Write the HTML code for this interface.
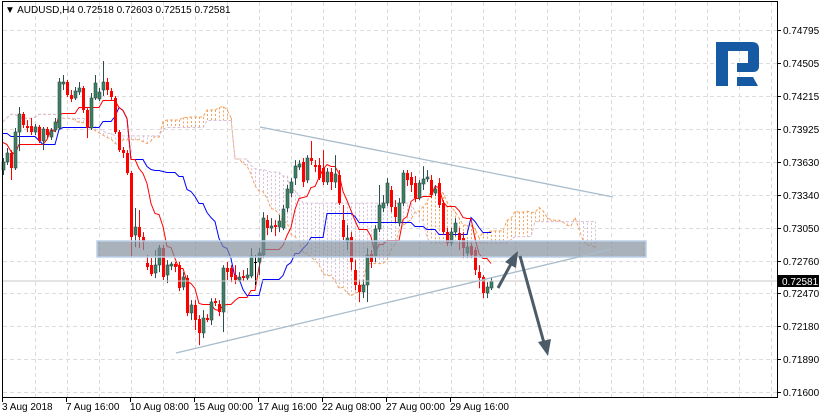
<!DOCTYPE html>
<html><head><meta charset="utf-8"><style>
html,body{margin:0;padding:0;background:#fff;}
svg{display:block;font-family:"Liberation Sans",sans-serif;}
</style></head><body>
<svg id="chart" width="820" height="416" viewBox="0 0 820 416" xmlns="http://www.w3.org/2000/svg">
<rect x="0" y="0" width="820" height="416" fill="#fff"/>
<g id="grid"></g>
<g id="cloud"></g>
<g id="lines"></g>
<g id="candles"></g>
<line x1="2" y1="281" x2="777" y2="281" stroke="#c8c8c8" stroke-width="1"/>
<rect x="97" y="241" width="549" height="16" fill="rgba(128,142,154,0.68)" stroke="#bcd0e8" stroke-width="1.5"/>
<line x1="260" y1="127" x2="613" y2="197" stroke="#a8bccb" stroke-width="1.3"/>
<line x1="176" y1="353" x2="612" y2="249" stroke="#a8bccb" stroke-width="1.3"/>
<g>
<line x1="498" y1="288" x2="512" y2="262" stroke="#4b5b68" stroke-width="3"/>
<polygon points="518,251 516,268 505,262" fill="#4b5b68"/>
</g>
<g>
<line x1="520" y1="256" x2="544" y2="343" stroke="#4b5b68" stroke-width="3"/>
<polygon points="548,356 538,342 551,339" fill="#4b5b68"/>
</g>
<g>
<path d="M716 42 H752 Q759 42 759 49 V66 Q759 72 753 72 H737 V63 H748 V51 H728 V86 H716 Z" fill="#155aa3"/>
<path d="M737 77 H753 L758 86 H737 Z" fill="#155aa3"/>
</g>
<rect x="2.5" y="1.5" width="775" height="396" fill="none" stroke="#000" stroke-width="1"/>
<g id="yaxis"></g>
<g id="xaxis"></g>
<g>
<rect x="778" y="275" width="41" height="12" fill="#000"/>
<text x="782" y="285" font-size="10" fill="#fff">0.72581</text>
</g>
<text x="5" y="13" font-size="10" fill="#000">▼ AUDUSD,H4  0.72518 0.72603 0.72515 0.72581</text>
</svg>
<script>
const opens=[0.73559,0.73630,0.73709,0.73577,0.73894,0.74053,0.73947,0.73947,0.73894,0.73939,0.73815,0.73921,0.73850,0.73912,0.73930,0.74318,0.74336,0.74221,0.74195,0.74248,0.74283,0.74089,0.73930,0.74195,0.74186,0.74265,0.74336,0.74257,0.74195,0.73894,0.73735,0.73709,0.73532,0.72985,0.73056,0.72967,0.72738,0.72720,0.72649,0.72720,0.72870,0.72632,0.72711,0.72729,0.72720,0.72526,0.72605,0.72296,0.72367,0.72243,0.72119,0.72252,0.72234,0.72402,0.72376,0.72305,0.72694,0.72694,0.72632,0.72588,0.72623,0.72605,0.72623,0.72747,0.72747,0.72808,0.73117,0.73047,0.73073,0.73056,0.73047,0.73224,0.73356,0.73488,0.73586,0.73630,0.73471,0.73665,0.73603,0.73603,0.73577,0.73453,0.73541,0.73453,0.73515,0.73117,0.72923,0.72967,0.72676,0.72544,0.72481,0.72544,0.72817,0.72791,0.73038,0.73224,0.73267,0.73383,0.73232,0.73091,0.73267,0.73532,0.73497,0.73444,0.73312,0.73435,0.73479,0.73471,0.73356,0.73444,0.73267,0.73011,0.72914,0.73011,0.73003,0.72959,0.72826,0.72888,0.72853,0.72658,0.72614,0.72472,0.72516];
const highs=[0.73665,0.73753,0.73735,0.73930,0.74115,0.74071,0.74000,0.74018,0.73965,0.73956,0.73939,0.73939,0.73930,0.74018,0.74371,0.74398,0.74354,0.74265,0.74292,0.74336,0.74301,0.74106,0.74239,0.74398,0.74283,0.74521,0.74371,0.74283,0.74212,0.73912,0.73762,0.73735,0.73550,0.73224,0.73206,0.73011,0.72808,0.72782,0.72853,0.72897,0.72897,0.72764,0.72747,0.72747,0.72747,0.72658,0.72632,0.72411,0.72411,0.72278,0.72323,0.72287,0.72428,0.72428,0.72411,0.72720,0.72747,0.72720,0.72720,0.72658,0.72676,0.72694,0.72870,0.72808,0.72870,0.73188,0.73162,0.73135,0.73117,0.73162,0.73250,0.73427,0.73488,0.73647,0.73647,0.73665,0.73691,0.73815,0.73647,0.73665,0.73735,0.73577,0.73577,0.73691,0.73559,0.73250,0.73073,0.73011,0.72764,0.72588,0.72588,0.72870,0.72853,0.73073,0.73427,0.73338,0.73488,0.73418,0.73294,0.73312,0.73559,0.73559,0.73541,0.73506,0.73471,0.73594,0.73559,0.73515,0.73427,0.73488,0.73294,0.73047,0.73047,0.73135,0.73047,0.73011,0.72941,0.72914,0.72879,0.72720,0.72632,0.72570,0.72605];
const lows=[0.73515,0.73603,0.73471,0.73559,0.73726,0.73930,0.73894,0.73868,0.73868,0.73797,0.73735,0.73841,0.73824,0.73894,0.73912,0.74265,0.74203,0.74159,0.74177,0.74221,0.74062,0.73841,0.73912,0.74177,0.74168,0.74212,0.74221,0.74177,0.73877,0.73718,0.73665,0.73515,0.72791,0.72879,0.72870,0.72853,0.72676,0.72623,0.72605,0.72658,0.72588,0.72561,0.72676,0.72658,0.72490,0.72499,0.72270,0.72234,0.72146,0.72014,0.72075,0.72217,0.72190,0.72358,0.72270,0.72128,0.72588,0.72570,0.72552,0.72570,0.72579,0.72588,0.72605,0.72544,0.72632,0.72782,0.72985,0.73011,0.72976,0.73011,0.73029,0.73188,0.73321,0.73427,0.73559,0.73409,0.73444,0.73603,0.73541,0.73471,0.73427,0.73427,0.73383,0.73400,0.73250,0.72941,0.72853,0.72676,0.72499,0.72393,0.72428,0.72393,0.72694,0.72747,0.73011,0.73188,0.73241,0.73188,0.73100,0.73064,0.73241,0.73418,0.73365,0.73276,0.73294,0.73383,0.73453,0.73312,0.73329,0.73224,0.72985,0.72888,0.72888,0.72976,0.72853,0.72782,0.72782,0.72782,0.72632,0.72516,0.72428,0.72428,0.72499];
const closes=[0.73630,0.73709,0.73577,0.73894,0.74053,0.73956,0.73930,0.73894,0.73939,0.73815,0.73921,0.73868,0.73903,0.73983,0.74336,0.74336,0.74221,0.74186,0.74257,0.74283,0.74089,0.73930,0.74195,0.74327,0.74248,0.74336,0.74265,0.74203,0.73894,0.73735,0.73709,0.73532,0.72967,0.73056,0.72967,0.72923,0.72703,0.72640,0.72720,0.72870,0.72614,0.72720,0.72729,0.72703,0.72516,0.72614,0.72296,0.72367,0.72234,0.72119,0.72252,0.72234,0.72393,0.72385,0.72305,0.72694,0.72658,0.72614,0.72588,0.72614,0.72605,0.72632,0.72800,0.72747,0.72826,0.73135,0.73047,0.73064,0.73056,0.73109,0.73215,0.73391,0.73453,0.73594,0.73612,0.73453,0.73665,0.73638,0.73586,0.73488,0.73453,0.73541,0.73453,0.73524,0.73267,0.72967,0.72959,0.72747,0.72544,0.72481,0.72544,0.72808,0.72747,0.73038,0.73250,0.73267,0.73444,0.73232,0.73144,0.73267,0.73532,0.73471,0.73427,0.73312,0.73444,0.73479,0.73497,0.73338,0.73391,0.73250,0.73011,0.72914,0.73011,0.73091,0.72941,0.72870,0.72879,0.72808,0.72676,0.72605,0.72472,0.72526,0.72581];
const priorHighs=[0.7405,0.7412,0.7418,0.7410,0.7402,0.7398,0.7408,0.7415,0.7420,0.7425,0.7418,0.7410,0.7404,0.7400,0.7395,0.7392,0.7398,0.7404,0.7410,0.7406,0.7398,0.7390,0.7385,0.7380,0.7378,0.7372];
const priorLows=[0.7392,0.7398,0.7404,0.7396,0.7388,0.7385,0.7394,0.7402,0.7406,0.7410,0.7404,0.7396,0.7390,0.7386,0.7382,0.7378,0.7384,0.7390,0.7396,0.7392,0.7384,0.7376,0.7370,0.7364,0.7360,0.7356];
const priceTicks=["0.74795","0.74505","0.74215","0.73925","0.73630","0.73340","0.73050","0.72760","0.72470","0.72180","0.71890","0.71600"];
const dateLabels=["3 Aug 2018","7 Aug 16:00","10 Aug 08:00","15 Aug 00:00","17 Aug 16:00","22 Aug 08:00","27 Aug 00:00","29 Aug 16:00"];
const dateBarIndex=[0,16,32,48,64,80,96,112];

const NS="http://www.w3.org/2000/svg";
function yOf(p){return 30+(0.74795-p)*11330;}
function xOf(i){return 3+4*i;}
function mk(tag,attrs,parent){const e=document.createElementNS(NS,tag);for(const k in attrs)e.setAttribute(k,attrs[k]);parent.appendChild(e);return e;}

const grid=document.getElementById('grid');
for(let k=0;k<priceTicks.length;k++){
  const y=Math.round(yOf(parseFloat(priceTicks[k])))+0.5;
  const l=mk('line',{x1:3,y1:y,x2:777,y2:y,stroke:'#dcdcdc','stroke-dasharray':'4,3'},grid);
  
  
}
for(let x=35;x<777;x+=32){
  const l=mk('line',{x1:x+0.5,y1:2,x2:x+0.5,y2:397,stroke:'#dcdcdc','stroke-dasharray':'4,3'},grid);
  
  
}

const yax=document.getElementById('yaxis');
for(let k=0;k<priceTicks.length;k++){
  const y=Math.round(yOf(parseFloat(priceTicks[k])));
  mk('line',{x1:777,y1:y+0.5,x2:781,y2:y+0.5,stroke:'#000'},yax);
  const t=mk('text',{x:783,y:y+4,'font-size':10,fill:'#000'},yax);
  t.textContent=priceTicks[k];
  
  
}
const xax=document.getElementById('xaxis');
for(let k=0;k<dateLabels.length;k++){
  const x=xOf(dateBarIndex[k])-1;
  mk('line',{x1:x+0.5,y1:397,x2:x+0.5,y2:402,stroke:'#000'},xax);
  const t=mk('text',{x:x,y:410,'font-size':10,fill:'#000'},xax);
  t.textContent=dateLabels[k];
  
  
}

// Ichimoku from combined highs/lows
const allH=priorHighs.concat(highs), allL=priorLows.concat(lows);
const P=priorHighs.length;
function mid(c,n){let hi=-1,lo=9;for(let j=Math.max(0,c-n+1);j<=c;j++){hi=Math.max(hi,allH[j]);lo=Math.min(lo,allL[j]);}return (hi+lo)/2;}
const cloud=document.getElementById('cloud');
const spanA=[],spanB=[];
for(let k=0;k<allH.length;k++){spanA.push((mid(k,9)+mid(k,26))/2);spanB.push(mid(k,52));}
for(let k=0;k<spanA.length;k++){
  const x=xOf(k)+0.5;if(x>777)break;
  const ya=yOf(spanA[k]),yb=yOf(spanB[k]);
  const h=mk('line',{x1:x,y1:ya,x2:x,y2:yb,stroke:spanA[k]>=spanB[k]?'#f4a460':'#d8bfd8','stroke-dasharray':'2,2','stroke-width':1},cloud);
  
  
}
function poly(vals,startIdx,color,dash,name,parent){
  let d='';
  for(let k=0;k<vals.length;k++){const x=xOf(k+startIdx),y=yOf(vals[k]).toFixed(1);d+=(k?'L':'M')+x+' '+y;}
  const p=mk('path',{d:d,fill:'none',stroke:color,'stroke-width':1},parent);
  if(dash)p.setAttribute('stroke-dasharray',dash);
  
  
}
poly(spanA,0,'#f4a460','3,2','senkou-span-a',cloud);
poly(spanB,0,'#d8bfd8','3,2','senkou-span-b',cloud);
const lines=document.getElementById('lines');
const tenkan=[],kijun=[];
for(let i=0;i<closes.length;i++){tenkan.push(mid(i+P,9));kijun.push(mid(i+P,26));}
function stepPath(vals,color,name){
  let d='';
  for(let k=0;k<vals.length;k++){const x=xOf(k),y=Math.round(yOf(vals[k]))+0.5;d+=(k?'L':'M')+x+' '+y;}
  const p=mk('path',{d:d,fill:'none',stroke:color,'stroke-width':1},lines);
  
  
}
stepPath(kijun,'#0000ff','kijun-sen');
stepPath(tenkan,'#ff0000','tenkan-sen');

const cg=document.getElementById('candles');
for(let i=0;i<closes.length;i++){
  const x=xOf(i),o=opens[i],c=closes[i];
  const bull=c>o,doji=c===o;
  const col=doji?'#000':(bull?'#2f4f4f':'#ff0000');
  const g=mk('g',{},cg);
  
  
  mk('line',{x1:x+0.5,y1:yOf(highs[i]),x2:x+0.5,y2:yOf(lows[i]),stroke:col,'stroke-width':1},g);
  const yt=Math.round(yOf(Math.max(o,c))),yb=Math.round(yOf(Math.min(o,c)));
  mk('rect',{x:x-1,y:yt,width:3,height:Math.max(1,yb-yt),fill:doji?'#000':(bull?'#3c8060':'#ff0000'),stroke:bull?'#2f4f4f':'none','stroke-width':0.6},g);
}
</script>
</body></html>
